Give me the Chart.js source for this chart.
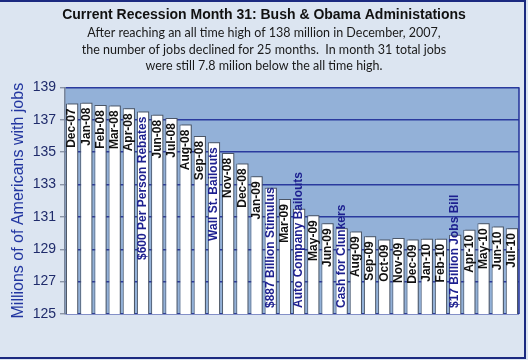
<!DOCTYPE html>
<html>
<head>
<meta charset="utf-8">
<script src="https://cdn.jsdelivr.net/npm/chart.js@4"></script>
<style>
  html, body { margin: 0; padding: 0; background: #dce5f1; }
  #wrap { width: 528px; height: 360px; }
</style>
</head>
<body>
<div id="wrap"><canvas id="myChart" width="528" height="360"></canvas></div>
<script>
// data
const months = ['Dec-07','Jan-08','Feb-08','Mar-08','Apr-08','May-08','Jun-08','Jul-08','Aug-08','Sep-08','Oct-08','Nov-08',
                'Dec-08','Jan-09','Feb-09','Mar-09','Apr-09','May-09','Jun-09','Jul-09','Aug-09','Sep-09','Oct-09','Nov-09',
                'Dec-09','Jan-10','Feb-10','Mar-10','Apr-10','May-10','Jun-10','Jul-10'];
const jobs = [138.0, 138.05, 137.9, 137.88, 137.7, 137.5, 137.3, 137.1, 136.7, 136.0, 135.6, 134.95,
              134.3, 133.5, 132.8, 132.1, 131.5, 131.1, 130.6, 130.3, 130.1, 129.8, 129.6, 129.7,
              129.6, 129.65, 129.65, 129.9, 130.2, 130.6, 130.4, 130.3];
// event notes shown in place of the month name
const events = ['', '', '', '', '', '$600 Per Person Rebates', '', '', '', '', 'Wall St. Bailouts', '',
                '', '', '$887 Billion Stimulus', '', 'Auto Company Bailouts', '', '', 'Cash for Clunkers', '', '', '', '',
                '', '', '', '$17 Billion Jobs Bill', '', '', '', ''];
const yTicks = [125, 127, 129, 131, 133, 135, 137, 139];

const titleText = 'Current Recession Month 31: Bush & Obama Administations';
const subLines = ['After reaching an all time high of 138 million in December, 2007,',
                  'the number of jobs declined for 25 months.  In month 31 total jobs',
                  'were still 7.8 milion below the all time high.'];

const backdrop = {
    id: 'backdrop',
    beforeDraw(chart) {
        const ctx = chart.ctx, a = chart.chartArea;
        ctx.save();
        ctx.fillStyle = '#dce5f1';
        ctx.fillRect(0, 0, chart.width, chart.height);
        ctx.fillStyle = '#93b1d8';
        ctx.fillRect(a.left, a.top, a.right - a.left, a.bottom - a.top);
        ctx.restore();
    },
    beforeDatasetsDraw(chart) {
        const ctx = chart.ctx;
        ctx.save();
        ctx.shadowColor = 'rgba(75,85,100,0.8)';
        ctx.shadowOffsetX = 2;
        ctx.shadowOffsetY = -1;
        ctx.shadowBlur = 0;
    },
    afterDatasetsDraw(chart) {
        const ctx = chart.ctx;
        ctx.restore();
        const a = chart.chartArea;
        ctx.save();
        ctx.strokeStyle = '#23329a';
        ctx.lineWidth = 1.5;
        ctx.beginPath();
        ctx.moveTo(a.right, a.top);
        ctx.lineTo(a.right, a.bottom);
        ctx.stroke();

        // labels inside bars
        const meta = chart.getDatasetMeta(0);
        meta.data.forEach((bar, i) => {
            const ev = events[i];
            const text = ev || months[i];
            ctx.font = 'bold 12px "Liberation Sans", Arial, sans-serif';
            ctx.fillStyle = ev ? '#1c1f8f' : '#111111';
            ctx.textBaseline = 'middle';
            const w = ctx.measureText(text).width;
            ctx.save();
            if (w + 10 < a.bottom - bar.y) {
                ctx.translate(bar.x, bar.y + 5);
                ctx.rotate(-Math.PI / 2);
                ctx.textAlign = 'right';
            } else {
                ctx.translate(bar.x, a.bottom - 6);
                ctx.rotate(-Math.PI / 2);
                ctx.textAlign = 'left';
            }
            ctx.fillText(text, 0, 0);
            ctx.restore();
        });
        ctx.restore();
    },
    afterDraw(chart) {
        const ctx = chart.ctx;
        ctx.save();
        ctx.strokeStyle = '#1b2a80';
        ctx.lineWidth = 2;
        ctx.beginPath();
        ctx.moveTo(0, 1);
        ctx.lineTo(525, 1);
        ctx.lineTo(525, 358);
        ctx.lineTo(0, 358);
        ctx.stroke();
        ctx.restore();
    }
};

const ctx = document.getElementById('myChart');
new Chart(ctx, {
    type: 'bar',
    data: {
        labels: months,
        datasets: [{
            data: jobs,
            backgroundColor: '#ffffff',
            borderColor: '#4d5869',
            borderWidth: 1,
            borderSkipped: false,
            barPercentage: 1,
            categoryPercentage: 0.86
        }]
    },
    options: {
        responsive: false,
        animation: false,
        layout: { padding: { left: 9, right: 9, bottom: 46, top: 0 } },
        plugins: {
            legend: { display: false },
            tooltip: { enabled: false },
            title: {
                display: true,
                text: titleText,
                color: '#111111',
                font: { family: '"Liberation Sans", Arial, sans-serif', size: 14, weight: 'bold', lineHeight: 1.2 },
                padding: { top: 7, bottom: 0 }
            },
            subtitle: {
                display: true,
                text: subLines,
                color: '#1a1a1a',
                font: { family: 'Lato, "Open Sans", sans-serif', size: 12.5, lineHeight: 1.32 },
                padding: { top: 1, bottom: 13 }
            }
        },
        scales: {
            x: {
                display: false
            },
            y: {
                min: 125,
                max: 139,
                afterBuildTicks(axis) { axis.ticks = yTicks.map(v => ({ value: v })); },
                afterFit(axis) { axis.width = 56; },
                ticks: {
                    color: '#1f2b6b',
                    font: { family: '"Liberation Sans", Arial, sans-serif', size: 14 },
                    padding: 4
                },
                grid: { color: '#2a3a9e', lineWidth: 1.4, tickLength: 5, tickColor: '#8a94a6' },
                border: { color: '#7a869a', width: 1.5 },
                title: {
                    display: true,
                    text: 'Millions of of Americans with jobs',
                    color: '#2236a0',
                    font: { family: '"Liberation Sans", Arial, sans-serif', size: 16 },
                    padding: { top: 0, bottom: 2 }
                }
            }
        }
    },
    plugins: [backdrop]
});
</script>
</body>
</html>
